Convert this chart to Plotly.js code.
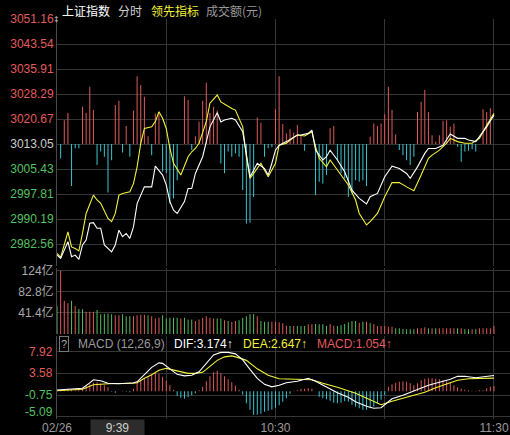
<!DOCTYPE html>
<html><head><meta charset="utf-8">
<script src="https://cdn.plot.ly/plotly-3.0.1.min.js"></script>
<style>html,body{margin:0;padding:0;background:#000;}#chart{width:510px;height:435px;}</style>
</head><body><div id="chart"></div>
<script>
// ---------- data (minute index 0 = 9:30) ----------
const prevClose = 3013.05;

const priceMinutes = [0,1,3,4,5,6,7,8,9,10,11,12,13,15,16,17,18,19,20,21,22,24,26,27,29,30,31,32,33,35,36,37,38,40,42,44,45,46,48,49,51,52,53,54,55,57,58,59,60,61,63,66,67,69,70,71,73,74,75,77,79,81,83,85,86,88,90,92,94,96,97,99,101,102,104,106,107,108,110,112,113,115,116,118,120];
const priceValues = [2979.2,2978.2,2983.3,2978.7,2979.2,2977.9,2982.3,2983.8,2988.9,2989.1,2987.4,2987.4,2982.3,2980.2,2982.3,2986.8,2984.8,2985.8,2984.3,2987.8,2994.9,3000.0,3000.0,3006.3,3003.6,3000.6,2995.5,2992.9,2991.9,2995.5,2999.5,2999.5,3004.1,3009.2,3018.3,3022.6,3019.8,3020.4,3020.9,3020.4,3016.8,3009.2,3003.1,3005.1,3007.2,3005.6,3003.6,3007.2,3011.2,3012.7,3013.8,3015.8,3015.8,3016.3,3017.3,3011.2,3008.2,3009.2,3011.2,3008.2,3004.6,2999.0,2996.5,2994.8,2997.0,2998.0,3003.1,3006.3,3005.6,3004.1,3002.6,3006.1,3010.2,3011.7,3011.7,3012.7,3014.3,3016.1,3014.8,3014.8,3014.3,3013.8,3015.3,3018.3,3021.9];

const leadMinutes = [0,1,3,4,5,6,7,8,10,11,12,14,15,16,17,18,20,21,22,23,24,26,27,28,29,30,31,32,34,35,36,37,38,39,41,42,44,45,47,48,49,51,52,53,54,56,57,58,60,61,63,64,66,68,70,71,72,74,75,78,80,82,83,85,86,88,90,92,94,96,98,100,102,103,105,107,108,110,112,114,116,118,120];
const leadValues = [2979.7,2978.5,2986.3,2981.7,2981.2,2980.5,2985.8,2991.9,2997.5,2996.0,2995.0,2990.4,2989.4,2991.9,2997.5,2998.0,2998.5,3001.0,3006.1,3013.3,3017.8,3018.3,3019.9,3022.9,3020.9,3017.8,3011.7,3007.2,3003.6,3006.7,3009.2,3010.7,3011.7,3013.3,3019.9,3025.5,3028.0,3025.9,3024.4,3023.9,3023.4,3018.3,3009.2,3002.6,3004.1,3007.2,3005.1,3003.1,3007.2,3012.7,3013.3,3014.3,3015.8,3015.5,3016.8,3012.2,3008.7,3006.1,3008.2,3003.6,3000.6,2996.0,2991.9,2988.4,2989.4,2991.9,2997.0,3001.3,3001.3,3000.0,2998.8,3003.6,3008.7,3009.7,3011.2,3013.3,3014.8,3013.8,3013.3,3013.3,3014.8,3018.8,3022.4];

// buy/sell strength bars around previous close (per minute)
const strengthValues = [0,-4.4,7.3,9.5,-12.8,-1.3,-1.3,11.4,9.5,17.5,10.4,-6.4,-2.3,-3.9,-14.8,-4.9,11.9,13.2,-2.6,5.5,-3.9,10.2,20.7,18.0,14.4,2.4,-3.4,9.3,9.3,-8.4,-8.9,-18.1,-16.6,-11.0,0,14.6,13.4,-1.8,2.4,6.8,13.2,18.7,9.5,11.4,10.2,-5.9,-8.9,-2.3,-3.9,-2.8,-3.9,-14.0,-24.2,-24.0,-16.1,8.1,6.5,-3.9,-1.3,-1.0,10.6,20.7,6.1,3.3,4.5,3.5,5.8,2.7,-2.0,0,0,-15.5,-11.5,-12.0,-9.4,4.8,5.5,-4.9,-8.9,-10.5,-16.1,-15.0,-11.0,-11.5,-11.0,-12.8,2.2,6.3,5.5,6.3,9.1,17.5,10.4,3.0,-1.8,-3.4,-4.9,-6.4,-3.9,9.8,12.9,16.5,9.8,2.7,0.7,2.7,7.1,7.3,5.3,6.3,-0.8,-5.4,-2.3,-2.0,-1.6,-2.3,0,10.6,9.8,10.9,0];

// turnover per minute (亿) and direction (1 = up/red, 0 = down/green)
const volumeValues = [54.7,124,65,60,65,55,48.8,48.5,43.4,43.4,43.4,46.8,38.8,39.5,40.1,38.5,36.8,36.8,38.5,34.8,34.8,34.8,36.8,37.5,37.5,36.8,34.8,30.2,32,36.8,30.2,32,32,32,30.2,32,28.5,28.5,25.5,28.5,32,34.8,32,30.2,30.2,30.2,27,25.5,23.5,25.5,27,32,34.8,38.5,39,35,25.5,24.2,24.2,24.2,24.2,22.9,20.9,16.3,15.7,15.7,15.7,15.7,15.7,19,19,19.6,19,19,15.7,19.6,16.3,15.7,17,19.6,22.9,25.5,25.5,22,24.2,24.2,20.9,19.6,15.7,15.7,15.7,14.4,14.4,11.1,11.1,9.8,9.1,9.1,9.1,11.1,11.1,13.1,11.1,11.1,11.1,11.1,11.1,11.1,11.1,11.1,11.1,11.1,9.1,9.1,9.1,9.1,11.1,11.1,11.1,11.1,15.7];
const volumeUp = [0,1,1,1,0,1,0,0,1,1,1,0,0,0,0,0,1,1,0,0,0,1,1,1,1,0,1,1,1,0,0,0,0,0,1,0,0,0,1,1,1,1,1,1,0,0,1,0,1,1,0,0,0,0,0,1,0,0,0,1,1,1,1,1,0,1,0,0,0,1,1,0,0,0,0,1,1,0,0,0,0,0,0,1,0,1,0,1,1,1,1,1,1,0,0,0,0,0,0,1,1,1,0,1,0,1,1,1,1,1,0,1,0,0,1,0,1,1,1,1,1];

// MACD (12,26,9)
const difMinutes = [0,3,7,9,10,12,14,17,21,22,24,26,28,29,31,33,35,37,39,41,43,45,47,49,51,53,55,57,59,61,63,66,69,71,74,77,80,82,85,87,89,92,95,97,100,102,105,108,110,112,115,118,120];
const difValues = [0.26,0.4,0.6,1.7,2.3,2.1,1.6,1.5,1.7,1.9,3.4,4.8,5.7,5.6,4.5,3.4,3.1,3.2,3.9,5.6,7.3,7.8,7.8,7.5,6.3,4.4,2.6,1.4,0.9,1.2,1.7,2.0,2.6,2.0,0.8,-0.3,-1.2,-2.1,-3.0,-3.4,-3.3,-1.5,-0.8,-0.2,0.6,1.2,1.8,2.4,3.0,3.0,2.7,2.9,3.174];
const deaMinutes = [0,7,10,14,21,22,24,26,28,30,33,36,38,40,42,44,46,48,50,52,55,58,61,64,67,70,73,77,82,85,87,89,92,95,98,101,104,107,110,113,116,118,120];
const deaValues = [0.1,0.4,1.3,1.5,1.6,1.7,2.6,3.3,4.2,4.6,4.1,3.6,3.6,3.8,5.0,6.2,6.9,7.1,6.7,6.2,4.5,3.2,2.5,2.4,2.3,2.3,1.6,0.8,-0.4,-1.4,-2.1,-2.7,-2.0,-1.4,-0.9,-0.2,0.7,1.5,2.2,2.5,2.6,2.6,2.647];
const macdValues = [0,0.1,0.2,0.5,0.4,0.2,0.3,0.6,1.1,1.4,1.7,1.8,1.5,1.2,0.8,-0.1,-0.3,0,0.1,-0.1,-0.2,0.5,1.7,2.3,2.6,2.9,3.4,3.8,3.5,2.9,2.1,1.2,0.3,-0.9,-1.3,-1.5,-1.2,-0.8,-0.4,0.2,0.9,2.0,3.0,3.8,4.1,3.6,3.0,2.4,1.8,1.1,0.3,-0.7,-2.4,-3.7,-4.7,-4.7,-4.5,-4.1,-3.9,-3.7,-3.3,-2.8,-2.1,-1.4,-0.5,0.1,0.2,0.5,0.5,0.6,0.5,0,-1.1,-1.4,-1.6,-1.9,-2.3,-2.4,-2.3,-2.0,-2.1,-2.7,-3.1,-3.4,-3.7,-3.7,-3.4,-3.1,-2.4,-1.7,-0.8,0.9,1.4,1.7,1.9,2.0,1.9,1.6,1.2,1.6,2.2,2.5,2.6,2.6,2.5,2.4,2.2,2.0,1.7,1.2,0.8,0.5,0.3,0.2,0.1,0.1,0.2,0.2,0.6,0.9,1.054];

// tick labels
const priceTicks = [3051.16,3043.54,3035.91,3028.29,3020.67,3013.05,3005.43,2997.81,2990.19,2982.56];
const volTicks = [41.4,82.8,124];
const volTickLabels = ['41.4亿','82.8亿','124亿'];
const macdTicks = [7.92,3.58,-0.75,-5.09];
const timeTicks = [0,30,60,90,120];
const timeLabels = ['02/26','','10:30','','11:30'];
const cursorTime = '9:39';
const cursorMinute = 9;

// ---------- styling ----------
const RED = '#e25c5c', GREEN = '#55c060', CYAN = '#3cc8d2', YEL = '#f2f23a', GRID = '#363636';
const FONT = 'Liberation Sans, Arial, "Noto Sans CJK SC", sans-serif';
const CJK = '"Noto Sans CJK SC", "Liberation Sans", sans-serif';

const H = 435, W = 510, L = 57, T = 19, B = 16;
const plotH = H - T - B, plotW = W - L;
const py = px => (H - B - px) / plotH;   // pixel y -> paper y
const pxx = px => (px - L) / plotW;      // pixel x -> paper x

const minutes = volumeValues.map((_, i) => i);
const BW = 0.27;

const traces = [
  {type:'bar', x:minutes, y:strengthValues, base:prevClose, width:BW, yaxis:'y',
   marker:{color:strengthValues.map(v => v >= 0 ? RED : CYAN), line:{width:0}}, hoverinfo:'skip'},
  {type:'scatter', mode:'lines', x:leadMinutes, y:leadValues, yaxis:'y',
   line:{color:YEL, width:1.1}, hoverinfo:'skip'},
  {type:'scatter', mode:'lines', x:priceMinutes, y:priceValues, yaxis:'y',
   line:{color:'#ffffff', width:1.1}, hoverinfo:'skip'},
  {type:'bar', x:minutes, y:volumeValues, width:BW, yaxis:'y2',
   marker:{color:volumeUp.map(u => u ? RED : GREEN), line:{width:0}}, hoverinfo:'skip'},
  {type:'bar', x:minutes, y:macdValues, width:BW, yaxis:'y3',
   marker:{color:macdValues.map(v => v >= 0 ? RED : CYAN), line:{width:0}}, hoverinfo:'skip'},
  {type:'scatter', mode:'lines', x:deaMinutes, y:deaValues, yaxis:'y3',
   line:{color:YEL, width:1.1}, hoverinfo:'skip'},
  {type:'scatter', mode:'lines', x:difMinutes, y:difValues, yaxis:'y3',
   line:{color:'#ffffff', width:1.1}, hoverinfo:'skip'}
];

const priceTickText = priceTicks.map(v => {
  const c = Math.abs(v - prevClose) < 0.001 ? '#cccccc' : (v > prevClose ? RED : GREEN);
  return `<span style="color:${c}">${v.toFixed(2)}</span>`;
});

const ann = [];
const header = [
  ['上证指数', 61, '#ffffff'], ['分时', 117, '#d0d0d0'], ['领先指标', 150, YEL], ['成交额(元)', 205, '#9a9a9a']
];
header.forEach(([t, x, c]) => ann.push({xref:'paper', yref:'paper', x:pxx(x), y:py(0.5), xanchor:'left', yanchor:'top',
  text:t, showarrow:false, font:{family:CJK, size:12, color:c}, borderpad:0}));
ann.push({xref:'paper', yref:'paper', x:pxx(56), y:py(19), xanchor:'center', yanchor:'middle', text:'↕',
  showarrow:false, font:{family:'DejaVu Sans', size:8, color:'#bbbbbb'}, borderpad:0});

// MACD header
const last = a => a[a.length - 1];
ann.push({xref:'paper', yref:'paper', x:pxx(59), y:py(344), xanchor:'left', yanchor:'middle', text:'?',
  showarrow:false, font:{family:FONT, size:11, color:'#aaaaaa'}, bordercolor:'#777777', borderwidth:1, borderpad:1});
const macdHeader = [
  ['MACD (12,26,9)', 77, '#9a9a9a'],
  [`DIF:${last(difValues).toFixed(3)}↑`, 173, '#ffffff'],
  [`DEA:${last(deaValues).toFixed(3)}↑`, 242, YEL],
  [`MACD:${last(macdValues).toFixed(3)}↑`, 316, RED]
];
macdHeader.forEach(([t, x, c]) => ann.push({xref:'paper', yref:'paper', x:pxx(x), y:py(344), xanchor:'left', yanchor:'middle',
  text:t, showarrow:false, font:{family:FONT, size:12, color:c}, borderpad:0}));

// MACD axis labels
macdTicks.forEach((v, k) => ann.push({xref:'paper', yref:'y3', x:0, y:v, xanchor:'right', yanchor:'middle',
  xshift:-3, yshift: k === macdTicks.length - 1 ? 5 : 0, text:v.toFixed(2), showarrow:false,
  font:{family:FONT, size:12, color: v > 0 ? RED : GREEN}, borderpad:0}));

// cursor time box
ann.push({xref:'x', yref:'paper', x:cursorMinute, y:py(427), xanchor:'left', yanchor:'middle', text:cursorTime,
  showarrow:false, width:53, height:15, bgcolor:'#2c2c2c', borderpad:0, font:{family:FONT, size:12, color:'#cfcfcf'}});

const layout = {
  width:W, height:H, paper_bgcolor:'#000', plot_bgcolor:'#000',
  margin:{l:L, r:0, t:T, b:B, pad:0}, showlegend:false, barmode:'overlay',
  font:{family:FONT, size:12, color:'#9a9a9a'},
  xaxis:{range:[0, 124.4], tickvals:timeTicks, ticktext:timeLabels, showgrid:true, gridcolor:GRID, gridwidth:1,
    zeroline:false, showline:false, ticks:'', anchor:'y3', tickfont:{color:'#9a9a9a', size:12}, fixedrange:true},
  yaxis:{domain:[py(266), 1], range:[2975.88, 3051.18], tickvals:priceTicks, ticktext:priceTickText,
    showgrid:true, gridcolor:GRID, zeroline:false, ticks:'', showline:true, linecolor:'#4a4a4a', tickfont:{size:12}},
  yaxis2:{domain:[py(334), py(268)], range:[0, 129.3], tickvals:volTicks, ticktext:volTickLabels,
    showgrid:true, gridcolor:GRID, zeroline:false, ticks:'', showline:true, linecolor:'#4a4a4a',
    tickfont:{size:12, color:'#aaaaaa', family:'Liberation Sans, "Noto Sans CJK SC", sans-serif'}},
  yaxis3:{domain:[0, py(336)], range:[-5.55, 11.08], tickvals:macdTicks, showticklabels:false,
    showgrid:true, gridcolor:GRID, zeroline:false, ticks:'', showline:true, linecolor:'#4a4a4a'},
  annotations:ann
};

Plotly.newPlot('chart', traces, layout, {displayModeBar:false, staticPlot:true});
</script>
</body></html>
